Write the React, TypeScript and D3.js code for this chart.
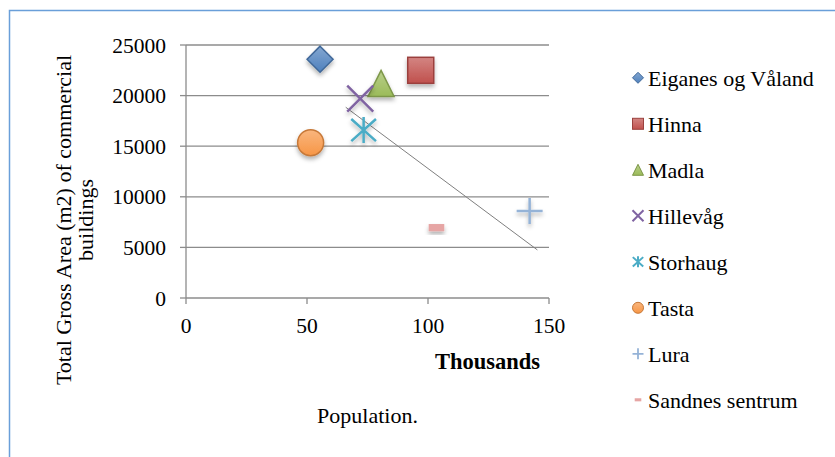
import React from "react";
import * as d3 from "d3";

// Districts: population (thousands) vs. total gross area of commercial buildings (m2)
const districts = ["Eiganes og Våland", "Hinna", "Madla", "Hillevåg", "Storhaug", "Tasta", "Lura", "Sandnes sentrum"];
const population = [55.4, 97.0, 80.6, 72.0, 73.4, 51.5, 142.0, 103.5];
const grossArea = [23600, 22500, 21200, 19700, 16600, 15350, 8600, 6950];
const markerKinds = ["diamond", "square", "triangle", "x", "star", "circle", "plus", "dash"];
const markerColors = ["#4F81BD", "#C0504D", "#9BBB59", "#8064A2", "#4BACC6", "#F79646", "#95B3D7", "#E6A5A4"];

const xTicks = [0, 50, 100, 150];
const yTicks = [0, 5000, 10000, 15000, 20000, 25000];

// straight line drawn across the plot (population, area)
const trendX = [66, 145.2];
const trendY = [18850, 4750];

const FONT = "'Liberation Serif', 'Times New Roman', serif";

function Marker({ kind, color, cx, cy, s, id, shadow }: any) {
  const h = s / 2;
  const fill = `url(#grad-${id})`;
  const stroke = d3.color(color)!.darker(0.6).toString();
  const filter = shadow ? "url(#shadow)" : undefined;
  const sw = s > 16 ? 1.5 : 1;
  switch (kind) {
    case "diamond":
      return <path d={`M${cx},${cy - h}L${cx + h},${cy}L${cx},${cy + h}L${cx - h},${cy}Z`} fill={fill} stroke={stroke} strokeWidth={sw} filter={filter} />;
    case "square":
      return <rect x={cx - h} y={cy - h} width={s} height={s} fill={fill} stroke={stroke} strokeWidth={sw} filter={filter} />;
    case "triangle":
      return <path d={`M${cx},${cy - h}L${cx + h},${cy + h}L${cx - h},${cy + h}Z`} fill={fill} stroke={stroke} strokeWidth={sw} filter={filter} />;
    case "circle":
      return <circle cx={cx} cy={cy} r={h} fill={fill} stroke={stroke} strokeWidth={sw} filter={filter} />;
    case "x":
      return <path d={`M${cx - h},${cy - h}L${cx + h},${cy + h}M${cx + h},${cy - h}L${cx - h},${cy + h}`} stroke={color} strokeWidth={s > 16 ? 2.5 : 2} fill="none" filter={filter} />;
    case "star":
      return <path d={`M${cx - h * 0.95},${cy - h * 0.85}L${cx + h * 0.95},${cy + h * 0.85}M${cx + h * 0.95},${cy - h * 0.85}L${cx - h * 0.95},${cy + h * 0.85}M${cx},${cy - h}L${cx},${cy + h}`} stroke={color} strokeWidth={s > 16 ? 2.5 : 2} fill="none" filter={filter} />;
    case "plus":
      return <path d={`M${cx - h},${cy}L${cx + h},${cy}M${cx},${cy - h}L${cx},${cy + h}`} stroke={color} strokeWidth={s > 16 ? 2.5 : 1.8} fill="none" filter={filter} />;
    case "dash":
      return <rect x={cx - h * 0.6} y={cy - s * 0.14} width={s * 0.6} height={s * 0.28} fill={color} filter={filter} />;
  }
  return null;
}

export default function App() {
  const width = 835;
  const height = 457;
  const x = d3.scaleLinear().domain([0, 150]).range([186, 549]);
  const y = d3.scaleLinear().domain([0, 25000]).range([298, 45]);
  const grid = "#8C8C8C";
  const line = d3.line<number>().x((_, i) => x(trendX[i])).y((v) => y(v));

  const legendX = 638;
  const legendTop = 86.3;
  const legendStep = 46;

  return (
    <svg width={width} height={height} style={{ position: "absolute", left: 0, top: 0, background: "#fff" }}>
      <defs>
        <filter id="shadow" x="-50%" y="-50%" width="200%" height="200%">
          <feDropShadow dx="0" dy="3" stdDeviation="2" floodColor="#000" floodOpacity="0.3" />
        </filter>
        {markerColors.map((c, i) => (
          <linearGradient key={i} id={`grad-${i}`} x1="0" y1="0" x2="0" y2="1">
            <stop offset="0%" stopColor={d3.interpolateRgb(c, "#fff")(0.3)} />
            <stop offset="100%" stopColor={c} />
          </linearGradient>
        ))}
      </defs>

      {/* frame */}
      <path d={`M9.5,${height}V10.5H${width}`} fill="none" stroke="#6A9FD9" strokeWidth={1.5} />

      {/* gridlines */}
      {yTicks.filter((t) => t > 0).map((t) => (
        <line key={t} x1={x(0)} x2={x(150)} y1={y(t)} y2={y(t)} stroke={grid} strokeWidth={1.3} />
      ))}
      {/* axes */}
      <line x1={x(0)} x2={x(0)} y1={y(25000)} y2={y(0)} stroke={grid} strokeWidth={1.3} />
      <line x1={x(0)} x2={x(150)} y1={y(0)} y2={y(0)} stroke={grid} strokeWidth={1.3} />
      {yTicks.map((t) => (
        <g key={t}>
          <line x1={x(0) - 6} x2={x(0)} y1={y(t)} y2={y(t)} stroke={grid} strokeWidth={1.3} />
          <text x={166} y={y(t)} dy="0.35em" textAnchor="end" fontFamily={FONT} fontSize={21.5} fill="#000">{t}</text>
        </g>
      ))}
      {xTicks.map((t) => (
        <g key={t}>
          <line x1={x(t)} x2={x(t)} y1={y(0)} y2={y(0) + 6} stroke={grid} strokeWidth={1.3} />
          <text x={x(t)} y={333} textAnchor="middle" fontFamily={FONT} fontSize={21.5} fill="#000">{t}</text>
        </g>
      ))}

      {/* axis titles */}
      <text x={540} y={369} textAnchor="end" fontFamily={FONT} fontSize={22.5} fontWeight="bold" fill="#000">Thousands</text>
      <text x={(x(0) + x(150)) / 2} y={423} textAnchor="middle" fontFamily={FONT} fontSize={22} fill="#000">Population.</text>
      <g transform="translate(0,220) rotate(-90)">
        <text x={0} y={71} textAnchor="middle" fontFamily={FONT} fontSize={22} fill="#000">Total Gross Area (m2) of commercial</text>
        <text x={0} y={92.5} textAnchor="middle" fontFamily={FONT} fontSize={22} fill="#000">buildings</text>
      </g>

      {/* trend line */}
      <path d={line(trendY) || ""} fill="none" stroke="#7F7F7F" strokeWidth={1} />

      {/* points */}
      {districts.map((d, i) => (
        <Marker key={d} kind={markerKinds[i]} color={markerColors[i]} cx={x(population[i])} cy={y(grossArea[i])} s={26} id={i} shadow />
      ))}

      {/* legend */}
      {districts.map((d, i) => {
        const base = legendTop + i * legendStep;
        return (
          <g key={d}>
            <Marker kind={markerKinds[i]} color={markerColors[i]} cx={legendX} cy={base - 8.5} s={11} id={i} shadow={false} />
            <text x={648} y={base} fontFamily={FONT} fontSize={22} fill="#000">{d}</text>
          </g>
        );
      })}
    </svg>
  );
}
